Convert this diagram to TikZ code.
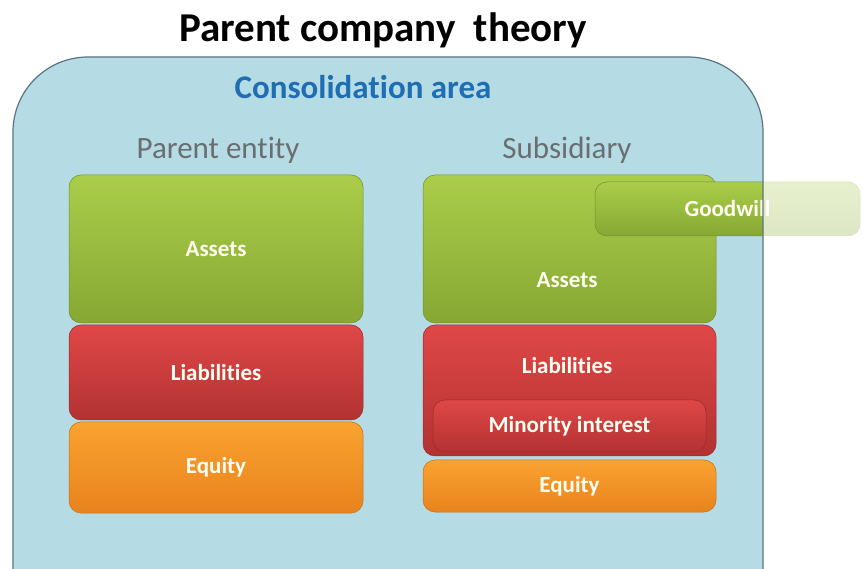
\documentclass[tikz,border=0pt]{standalone}
\usepackage{fontspec}
\setmainfont{Carlito}[Ligatures=NoCommon]

\definecolor{areafill}{HTML}{B5DCE5}
\definecolor{arealine}{HTML}{5B7384}
\definecolor{areatext}{HTML}{1F6DB3}
\definecolor{entitytext}{HTML}{6A6E70}
\definecolor{greentop}{HTML}{ABCD4A}
\definecolor{greenbot}{HTML}{86A833}
\definecolor{redtop}{HTML}{E04747}
\definecolor{redbot}{HTML}{B33232}
\definecolor{orangetop}{HTML}{FAA230}
\definecolor{orangebot}{HTML}{E8831D}

\begin{document}
\begin{tikzpicture}
    [   x=1pt,y=-1pt,
        block/.style={rounded corners=12pt,top color=#1top,bottom color=#1bot,
            draw=#1bot!85!black,line width=0.5pt,text=white!95!yellow,inner sep=0pt,
            font=\bfseries\fontsize{23}{26}\selectfont},
        lbl/.style={text=white!95!yellow,inner sep=0pt,font=\bfseries\fontsize{23}{26}\selectfont},
        head/.style={text=entitytext,font=\fontsize{31}{34}\selectfont},
    ]
    \useasboundingbox (0,0) rectangle (863,569);
    \clip (0,0) rectangle (863,569);

    % consolidation area
    \fill[areafill,rounded corners=75pt] (13,620) -- (13,57) -- (763,57) -- (763,620);

    \node[font=\bfseries\fontsize{41}{44}\selectfont] (title) at (383,30) {Parent company~~theory};
    \node[text=areatext,font=\bfseries\fontsize{33}{36}\selectfont] (area) at (363,87) {Consolidation area};
    \node[head] (parent) at (218,150) {Parent entity};
    \node[head] (sub) at (567,150) {Subsidiary};

    % parent entity balance sheet
    \foreach \c/\y/\h/\t/\n in {green/249/148/Assets/passets,red/372.5/95/Liabilities/pliab,orange/467.5/91/Equity/pequity}
    {   \node[block=\c,minimum width=294pt,minimum height=\h pt] (\n) at (216,\y) {\t};
    }

    % subsidiary balance sheet
    \node[block=green,minimum width=293pt,minimum height=148pt] (sassets) at (569.5,249) {};
    \node[lbl] (sassetstext) at (567,280) {Assets};
    \node[block=red,minimum width=293pt,minimum height=131pt] (sliab) at (569.5,390.5) {};
    \node[lbl] (sliabtext) at (567,366) {Liabilities};
    \node[block=red,minimum width=273pt,minimum height=52pt] (minority) at (569.5,426) {Minority interest};
    \node[block=orange,minimum width=293pt,minimum height=52pt] (sequity) at (569.5,486) {Equity};

    \node[block=green,minimum width=265pt,minimum height=54pt] (goodwill) at (727.5,209) {Goodwill};
    \fill[white,opacity=0.72] (763,178) rectangle (863,242);

    \draw[arealine,line width=1.2pt,rounded corners=75pt] (13,620) -- (13,57) -- (763,57) -- (763,620);
\end{tikzpicture}
\end{document}
